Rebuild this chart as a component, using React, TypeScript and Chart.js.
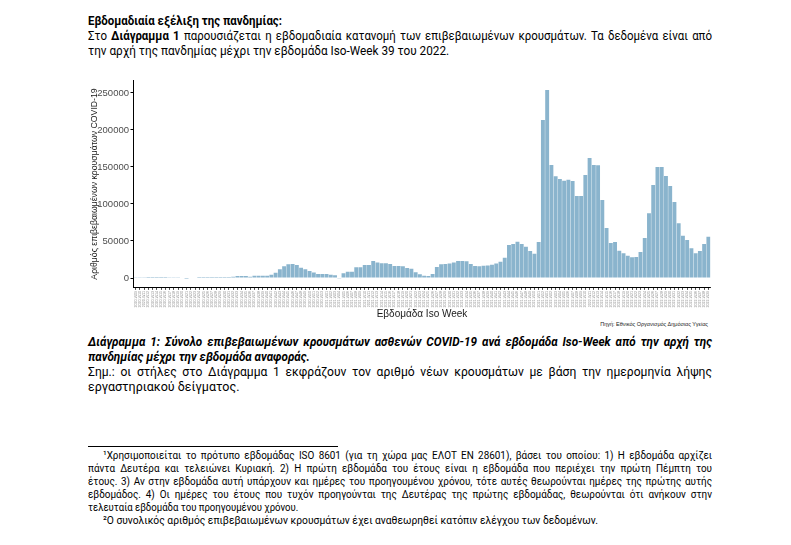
import React, { useEffect, useRef } from "react";
import { Chart, registerables } from "chart.js";

Chart.register(...registerables);

// ---- data ----
const YEARS = [2020, 2021, 2022];
const FIRST_WEEK = [9, 1, 1];
const LAST_WEEK = [53, 52, 39];

const CASES_2020 = [
  300, 900, 1100, 1200, 1200, 1300, 1200, 1200, 1100, 1100,
  1000, 800, -1200, -600, 800, 1200, 1200, 1300, 1200, 1200,
  1300, 1400, 1500, 1600, 2700, 2800, 2600, 1800, 2900, 3000,
  3000, 3200, 4500, 7000, 11700, 16000, 18500, 18900, 17500, 14000,
  11700, 9500, 7500, 5400, 5400,
];
const CASES_2021 = [
  5400, 4500, 3600, -1000, 6300, 8600, 8600, 14400, 14400, 17500,
  17500, 23000, 21000, 20000, 19800, 19000, 16200, 16200, 16000, 13500,
  12500, 7600, 5000, 3200, 2700, 5400, 15000, 18500, 19000, 19500,
  21000, 23000, 23000, 22500, 19000, 16200, 16000, 16500, 17000, 18000,
  19500, 22000, 27500, 44600, 46000, 49000, 46000, 42300, 36500, 32900,
  48600, 213500,
];
const CASES_2022 = [
  254000, 152700, 137400, 133800, 131500, 132900, 131100, 110800, 110800, 139200,
  162200, 152700, 152300, 105400, 67600, 47300, 48600, 36900, 33300, 30200,
  27900, 28400, 35100, 54000, 87400, 125700, 150000, 150000, 137800, 124300,
  102700, 73900, 57200, 51400, 40100, 33300, 36500, 45900, 55900,
];

const Y_TICKS = [0, 50000, 100000, 150000, 200000, 250000];
const Y_TITLE = "Αριθμός επιβεβαιωμένων κρουσμάτων COVID-19";
const X_TITLE = "Εβδομάδα Iso Week";
const SOURCE = "Πηγή: Εθνικός Οργανισμός Δημόσιας Υγείας";

const LABELS: string[] = [];
YEARS.forEach((y, k) => {
  for (let w = FIRST_WEEK[k]; w <= LAST_WEEK[k]; w++) {
    LABELS.push(`${y}-W${String(w).padStart(2, "0")}`);
  }
});
const VALUES = [...CASES_2020, ...CASES_2021, ...CASES_2022];

// ---- text ----
const HEADING = "Εβδομαδιαία εξέλιξη της πανδημίας:";
const INTRO_A = "Στο ";
const INTRO_B = "Διάγραμμα 1";
const INTRO_C = " παρουσιάζεται η εβδομαδιαία κατανομή των επιβεβαιωμένων κρουσμάτων. Τα δεδομένα είναι από";
const INTRO_2 = "την αρχή της πανδημίας μέχρι την εβδομάδα Iso-Week 39 του 2022.";
const CAPTION_1 = "Διάγραμμα 1: Σύνολο επιβεβαιωμένων κρουσμάτων ασθενών COVID-19 ανά εβδομάδα Iso-Week από την αρχή της";
const CAPTION_2 = "πανδημίας μέχρι την εβδομάδα αναφοράς.";
const NOTE_1 = "Σημ.:  οι στήλες στο Διάγραμμα 1 εκφράζουν τον αριθμό νέων κρουσμάτων με βάση την ημερομηνία λήψης";
const NOTE_2 = "εργαστηριακού δείγματος.";
const FOOT = [
  "¹Χρησιμοποιείται το πρότυπο εβδομάδας ISO 8601 (για τη χώρα μας ΕΛΟΤ ΕΝ 28601), βάσει του οποίου: 1) Η εβδομάδα αρχίζει",
  "πάντα Δευτέρα και τελειώνει Κυριακή.  2) Η πρώτη εβδομάδα του έτους είναι η εβδομάδα που περιέχει την πρώτη Πέμπτη του",
  "έτους. 3) Αν στην εβδομάδα αυτή υπάρχουν και ημέρες του προηγουμένου χρόνου, τότε αυτές θεωρούνται ημέρες της πρώτης αυτής",
  "εβδομάδος.  4) Οι ημέρες του έτους που τυχόν προηγούνται της Δευτέρας της πρώτης εβδομάδας, θεωρούνται ότι ανήκουν στην",
  "τελευταία εβδομάδα του προηγουμένου χρόνου.",
  "²Ο συνολικός αριθμός επιβεβαιωμένων κρουσμάτων έχει αναθεωρηθεί κατόπιν ελέγχου των δεδομένων.",
];

const BODY_FONT = "Roboto, 'Noto Sans', sans-serif";
const AX_FONT = "'Liberation Sans', Arial, sans-serif";

function Line(props: {
  top: number;
  left?: number;
  width?: number;
  justify?: boolean;
  size?: number;
  lh?: number;
  weight?: number;
  italic?: boolean;
  scale?: number;
  children: React.ReactNode;
}) {
  const left = props.left ?? 88;
  const width = props.width ?? 712 - left;
  const scale = props.scale ?? 0.9;
  return (
    <div
      style={{
        position: "absolute",
        top: props.top,
        left,
        width: width / scale,
        transform: `scaleX(${scale})`,
        transformOrigin: "0 0",
        fontSize: props.size ?? 13,
        lineHeight: `${props.lh ?? 15}px`,
        height: props.lh ?? 15,
        fontWeight: props.weight ?? 400,
        fontStyle: props.italic ? "italic" : "normal",
        textAlign: props.justify ? "justify" : "left",
        textAlignLast: props.justify ? "justify" : "left",
        color: "#000",
      } as React.CSSProperties}
    >
      {props.children}
    </div>
  );
}

function BarChart() {
  const ref = useRef<HTMLCanvasElement | null>(null);
  useEffect(() => {
    if (!ref.current) return;
    const chart = new Chart(ref.current, {
      type: "bar",
      data: {
        labels: LABELS,
        datasets: [
          {
            data: VALUES,
            backgroundColor: "#8AB4CD",
            borderWidth: 0,
            barPercentage: 0.92,
            categoryPercentage: 1,
          },
        ],
      },
      options: {
        animation: false,
        responsive: false,
        devicePixelRatio: 1,
        layout: { padding: { top: 10.6, right: 9.5, left: 0, bottom: 0 } },
        plugins: { legend: { display: false }, tooltip: { enabled: false } },
        scales: {
          x: {
            offset: true,
            grid: {
              display: true,
              drawOnChartArea: false,
              drawTicks: true,
              tickLength: 2.5,
              color: "#000",
              lineWidth: 0.7,
              offset: false,
            },
            border: { display: true, color: "#000", width: 1 },
            ticks: {
              autoSkip: false,
              maxRotation: 90,
              minRotation: 90,
              padding: 1,
              color: "#8c8c8c",
              font: { family: AX_FONT, size: 3.6 },
            },
            title: {
              display: true,
              text: X_TITLE,
              color: "#1a1a1a",
              font: { family: AX_FONT, size: 10 },
              padding: { top: 0, bottom: 0 },
            },
            afterFit: (s: any) => {
              s.height = 32.6;
            },
          },
          y: {
            min: -12700,
            max: 266700,
            afterBuildTicks: (s: any) => {
              s.ticks = Y_TICKS.map((v) => ({ value: v }));
            },
            grid: {
              display: true,
              drawOnChartArea: false,
              drawTicks: true,
              tickLength: 3,
              color: "#000",
            },
            border: { display: true, color: "#000", width: 1 },
            ticks: {
              padding: 1.5,
              color: "#4d4d4d",
              font: { family: AX_FONT, size: 9.5 },
              callback: (v: any) => String(v),
            },
            title: {
              display: true,
              text: Y_TITLE,
              color: "#1a1a1a",
              font: { family: AX_FONT, size: 8.7 },
              padding: { top: 9.8, bottom: 0 },
            },
            afterFit: (s: any) => {
              s.width = 53.5;
            },
          },
        },
      },
    } as any);
    return () => chart.destroy();
  }, []);
  return (
    <canvas
      ref={ref}
      width={640}
      height={250}
      style={{ position: "absolute", left: 80, top: 70, width: 640, height: 250 }}
    />
  );
}

export default function App() {
  return (
    <div
      style={{
        position: "absolute",
        left: 0,
        top: 0,
        width: 791,
        height: 545,
        background: "#fff",
        fontFamily: BODY_FONT,
        overflow: "hidden",
      }}
    >
      <Line top={12.5} weight={700} scale={0.88}>{HEADING}</Line>
      <Line top={27.5} justify scale={0.88}>
        {INTRO_A}
        <b>{INTRO_B}</b>
        {INTRO_C}
      </Line>
      <Line top={42.5} scale={0.905}>{INTRO_2}</Line>

      <BarChart />
      <div
        style={{
          position: "absolute",
          top: 321,
          left: 400,
          width: 308,
          textAlign: "right",
          fontFamily: AX_FONT,
          fontSize: 5.5,
          lineHeight: "7px",
          color: "#222",
          whiteSpace: "nowrap",
        }}
      >
        {SOURCE}
      </div>

      <Line top={334} justify weight={700} italic scale={0.9}>{CAPTION_1}</Line>
      <Line top={348.5} weight={700} italic scale={0.9}>{CAPTION_2}</Line>
      <Line top={363.5} justify scale={0.93}>{NOTE_1}</Line>
      <Line top={378.5} scale={0.96}>{NOTE_2}</Line>

      <div
        style={{
          position: "absolute",
          top: 446,
          left: 88,
          width: 250,
          height: 1,
          background: "#000",
        }}
      />
      <Line top={448.5} left={103} justify size={11} lh={13} scale={0.9}>{FOOT[0]}</Line>
      <Line top={461.5} justify size={11} lh={13} scale={0.9}>{FOOT[1]}</Line>
      <Line top={474.5} justify size={11} lh={13} scale={0.9}>{FOOT[2]}</Line>
      <Line top={487.5} justify size={11} lh={13} scale={0.9}>{FOOT[3]}</Line>
      <Line top={500.5} size={11} lh={13} scale={0.87}>{FOOT[4]}</Line>
      <Line top={513.5} left={103} size={11} lh={13} scale={0.935}>{FOOT[5]}</Line>
    </div>
  );
}
